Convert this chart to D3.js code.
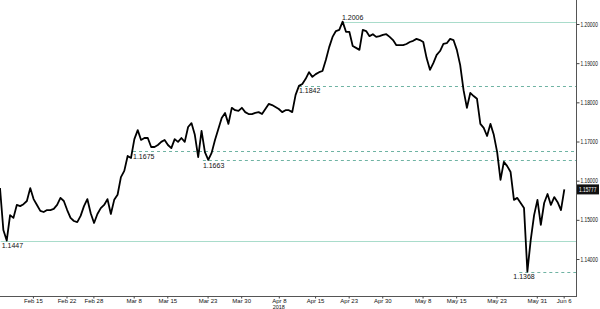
<!DOCTYPE html>
<html><head><meta charset="utf-8">
<script src="https://cdn.jsdelivr.net/npm/d3@7"></script>
<style>
html,body{margin:0;padding:0;background:#fff;}
svg{display:block;}
text{font-family:"Liberation Sans",Arial,sans-serif;}
</style></head><body>
<svg id="c" width="600" height="309"></svg>
<script>
// EUR/USD half-day samples (trading-day index starts at -0.9, step 0.5)
const startDay = -0.9;
const step = 0.5;
const prices = [
1.1581,1.1474,1.1447,1.1512,1.1505,1.1538,1.1535,1.1540,1.1548,1.1581,
1.1553,1.1538,1.1523,1.1520,1.1525,1.1525,1.1528,1.1538,1.1556,1.1548,
1.1525,1.1505,1.1497,1.1494,1.1510,1.1535,1.1553,1.1517,1.1492,1.1515,
1.1530,1.1538,1.1553,1.1515,1.1551,1.1564,1.1609,1.1625,1.1663,1.1658,
1.1706,1.1729,1.1704,1.1709,1.1709,1.1686,1.1686,1.1691,1.1699,1.1704,
1.1691,1.1683,1.1706,1.1699,1.1709,1.1699,1.1737,1.1747,1.1717,1.1660,
1.1727,1.1673,1.1653,1.1671,1.1704,1.1732,1.1760,1.1773,1.1745,1.1786,
1.1780,1.1778,1.1786,1.1775,1.1770,1.1770,1.1773,1.1775,1.1770,1.1783,
1.1796,1.1793,1.1788,1.1783,1.1775,1.1780,1.1780,1.1775,1.1819,1.1842,
1.1847,1.1860,1.1877,1.1865,1.1872,1.1877,1.1880,1.1908,1.1941,1.1967,
1.1982,1.1985,1.2006,1.1980,1.1980,1.1944,1.1939,1.1934,1.1985,1.1982,
1.1969,1.1974,1.1967,1.1969,1.1972,1.1974,1.1967,1.1959,1.1946,1.1946,
1.1946,1.1949,1.1954,1.1957,1.1962,1.1959,1.1954,1.1913,1.1883,1.1900,
1.1921,1.1931,1.1949,1.1951,1.1962,1.1959,1.1934,1.1895,1.1831,1.1786,
1.1824,1.1816,1.1809,1.1745,1.1735,1.1714,1.1745,1.1717,1.1673,1.1602,
1.1648,1.1637,1.1622,1.1551,1.1556,1.1543,1.1530,1.1368,1.1449,1.1512,
1.1551,1.1487,1.1543,1.1566,1.1538,1.1558,1.1545,1.1525,1.15777
];
// x-axis labels at trading-day indices (day 0 = Feb 9 2018)
const tickLabels = ["Feb 15","Feb 22","Feb 28","Mar 8","Mar 15","Mar 23","Mar 30","Apr 8","Apr 15","Apr 23","Apr 30","May 8","May 15","May 23","May 31","Jun 6"];
const tickDays   = [4,9,13,19,24,30,35,40.6,46,51,56,62,67,73,79,83];
const yearLabel = "2018";
const yearDay = 40.6;
const yTicks = [1.14,1.15,1.16,1.17,1.18,1.19,1.20];
// annotated levels
const levelValues = [1.2006,1.1842,1.1675,1.1652,1.1447,1.1368];
const levelLabels = ["1.2006","1.1842","1.1675","1.1663","1.1447","1.1368"];
const levelDays   = [50,43.6,18.9,29.3,-0.8,76.4];
const levelSolid  = [true,false,false,false,true,false];
const lastPrice = "1.15777";

const svg = d3.select("#c");
const x = d3.scaleLinear().domain([-0.9, 83.2]).range([0, 565]);
const y = d3.scaleLinear().domain([1.14, 1.20]).range([259, 24]);
const axisX = 576, axisY = 296;

// level lines
levelValues.forEach((v,i)=>{
  const yy = Math.round(y(v))+0.5;
  svg.append("line").attr("x1", x(levelDays[i])).attr("x2", axisX)
    .attr("y1", yy).attr("y2", yy)
    .attr("stroke", levelSolid[i] ? "#a9dccb" : "#6fb3a3")
    .attr("stroke-width", 1)
    .attr("stroke-dasharray", levelSolid[i] ? null : "3,3");
});

// price line
const line = d3.line().x((d,i)=>x(startDay + i*step)).y(d=>y(d));
svg.append("path").datum(prices).attr("d", line)
  .attr("fill","none").attr("stroke","#000").attr("stroke-width",1.8).attr("stroke-linejoin","round");

// level labels
levelValues.forEach((v,i)=>{
  const yy = y(v);
  const above = i===0;
  svg.append("text").attr("x", x(levelDays[i]) + (i===4?1:0) - (i===5?6:0))
    .attr("y", above ? yy-1.5 : yy+7.5)
    .attr("font-size", 7).attr("fill","#111")
    .attr("transform", null)
    .text(levelLabels[i]);
});

// axes lines
svg.append("line").attr("x1",axisX+0.5).attr("x2",axisX+0.5).attr("y1",0).attr("y2",axisY+1).attr("stroke","#555");
svg.append("line").attr("x1",0).attr("x2",axisX).attr("y1",axisY+0.5).attr("y2",axisY+0.5).attr("stroke","#555");

// right axis
const yAxis = d3.axisRight(y).tickValues(yTicks).tickFormat(d3.format(".5f")).tickSize(3);
const gy = svg.append("g").attr("transform",`translate(${axisX+0.5},0)`).call(yAxis);
gy.select(".domain").remove();
gy.selectAll("text").attr("font-size",6.5).attr("fill","#111")
  .attr("x", 4/0.74).attr("transform","scale(0.74,1)");
gy.selectAll("line").attr("stroke","#444");

// last price tag
const ly = y(+lastPrice);
svg.append("rect").attr("x",577).attr("y",ly-5).attr("width",22).attr("height",10).attr("fill","#111");
svg.append("text").attr("x",579/0.74).attr("y",ly+2.5).attr("font-size",6.5).attr("fill","#fff")
  .attr("transform","scale(0.74,1)").text(lastPrice);

// bottom axis
const xAxis = d3.axisBottom(x).tickValues(tickDays).tickFormat((d,i)=>tickLabels[i]).tickSize(2).tickPadding(0);
const gx = svg.append("g").attr("transform",`translate(0,${axisY+0.5})`).call(xAxis);
gx.select(".domain").remove();
gx.selectAll("text").attr("font-size",6).attr("fill","#111");
gx.selectAll("line").attr("stroke","#444");
svg.append("text").attr("x",x(yearDay)).attr("y",309).attr("text-anchor","middle")
  .attr("font-size",5.5).attr("fill","#111").text(yearLabel);
</script>
</body></html>
